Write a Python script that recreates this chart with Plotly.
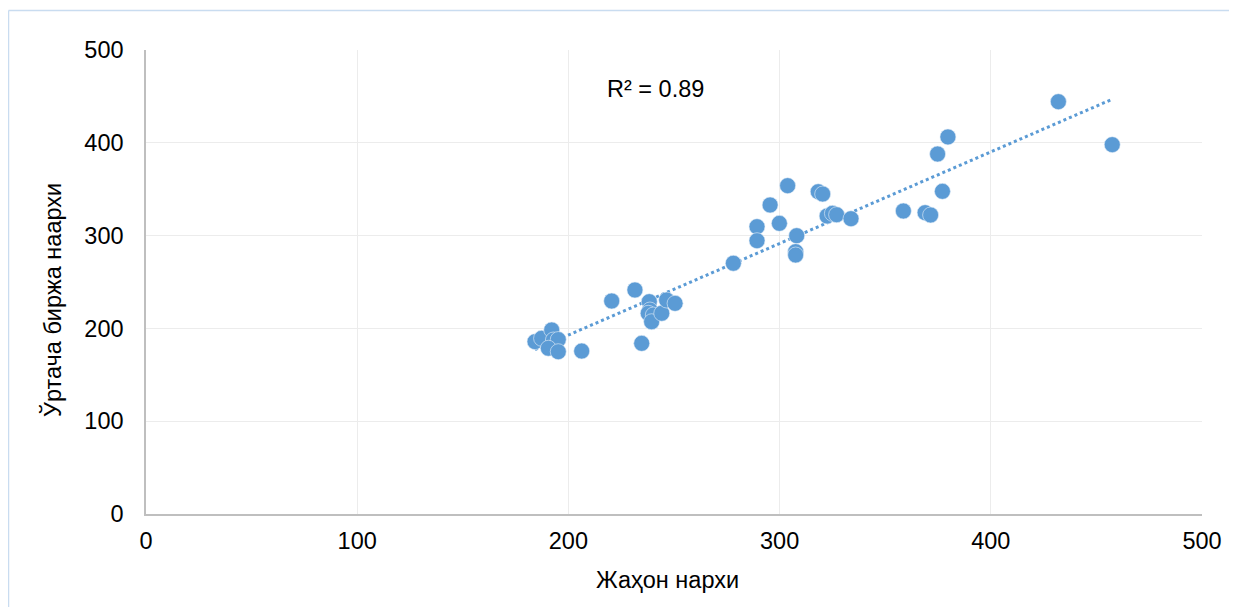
import numpy as np
import plotly.graph_objects as go

# World price (x) vs average exchange price (y)
world_price = [184.2, 187.3, 192.1, 192.9, 195.2, 190.5, 195.2, 206.3,
               220.5, 231.5, 238.3, 238.6, 237.8, 240.2, 239.4, 244.2, 246.5, 250.5, 234.7,
               278.1, 289.3, 289.3, 295.5, 299.9, 303.8, 308.1, 307.6, 307.6,
               318.3, 320.4, 322.5, 325.0, 327.0, 333.8,
               358.6, 368.9, 371.5, 377.1, 374.8, 379.7, 432.0, 457.5]
exchange_price = [185.7, 189.3, 198.3, 187.5, 188.0, 178.6, 174.9, 175.6,
                  229.5, 241.4, 228.8, 219.8, 216.3, 214.4, 207.2, 216.3, 230.6, 227.0, 183.9,
                  270.2, 309.6, 294.5, 333.0, 313.2, 353.8, 299.9, 282.7, 279.1,
                  347.3, 344.8, 321.1, 324.0, 322.5, 318.2,
                  326.5, 324.7, 322.2, 347.7, 387.9, 406.3, 444.3, 398.0]

x_ticks = [0, 100, 200, 300, 400, 500]
y_ticks = [0, 100, 200, 300, 400, 500]
r2_label = "R² = 0.89"
x_title = "Жаҳон нархи"
y_title = "Ўртача биржа наархи"

blue = "#5b9bd5"
font = "Liberation Sans, Arial, sans-serif"
fs = 23.5

xa = np.array(world_price)
ya = np.array(exchange_price)
slope, intercept = np.polyfit(xa, ya, 1)
tx = np.array([xa.min(), xa.max()])
ty = slope * tx + intercept

fig = go.Figure()
fig.add_trace(go.Scatter(x=list(tx), y=list(ty), mode="lines",
                         line=dict(color=blue, width=3, dash="dot"),
                         hoverinfo="skip", showlegend=False))
fig.add_trace(go.Scatter(x=world_price, y=exchange_price, mode="markers",
                         marker=dict(color=blue, size=16, line=dict(width=0.6, color="#e8f0f8")),
                         showlegend=False))

# page has an 8px body margin: figure coords = page coords - 8
off = 8
W, H = 1237, 607
pl = 146 - off
pt = 50 - off
pr = W - (1202 - off)
pb = H - (514 - off)
pw, ph = W - pl - pr, H - pt - pb

def px2paper_x(px):
    return (px - off - pl) / pw

def py2paper_y(py):
    return (H - pb - (py - off)) / ph

fx = px2paper_x(8.5)
fy = py2paper_y(10.5)
fig.add_shape(type="line", xref="paper", yref="paper", x0=fx, x1=1.2, y0=fy, y1=fy,
              line=dict(color="#c9dcf0", width=1.5), layer="below")
fig.add_shape(type="line", xref="paper", yref="paper", x0=fx, x1=fx, y0=fy, y1=-0.3,
              line=dict(color="#c9dcf0", width=1.5), layer="below")

ann_font = dict(size=fs, color="#000000", family=font)
fig.add_annotation(x=px2paper_x(655), y=py2paper_y(89), xref="paper", yref="paper",
                   text=r2_label, showarrow=False, xanchor="center", yanchor="middle",
                   font=ann_font)
fig.add_annotation(x=px2paper_x(667), y=py2paper_y(580), xref="paper", yref="paper",
                   text=x_title, showarrow=False, xanchor="center", yanchor="middle",
                   font=ann_font)
fig.add_annotation(x=px2paper_x(52), y=py2paper_y(300), xref="paper", yref="paper",
                   text=y_title, textangle=-90, showarrow=False, xanchor="center",
                   yanchor="middle", font=ann_font)

fig.update_layout(
    width=W, height=H,
    margin=dict(l=pl, r=pr, t=pt, b=pb),
    paper_bgcolor="white", plot_bgcolor="white",
    font=dict(family=font, size=fs, color="#000000"),
    xaxis=dict(range=[0, 500], tickvals=x_ticks, showgrid=True, gridcolor="#ececec",
               gridwidth=1, zeroline=False, showline=True, linecolor="#bfbfbf", linewidth=1.5,
               ticks="", ticklabelstandoff=5, tickfont=dict(size=fs), automargin=False),
    yaxis=dict(range=[0, 500], tickvals=y_ticks, showgrid=True, gridcolor="#ececec",
               gridwidth=1, zeroline=False, showline=True, linecolor="#bfbfbf", linewidth=1.5,
               ticks="", ticklabelstandoff=16, tickfont=dict(size=fs), automargin=False),
)

fig.write_html("out.html")
